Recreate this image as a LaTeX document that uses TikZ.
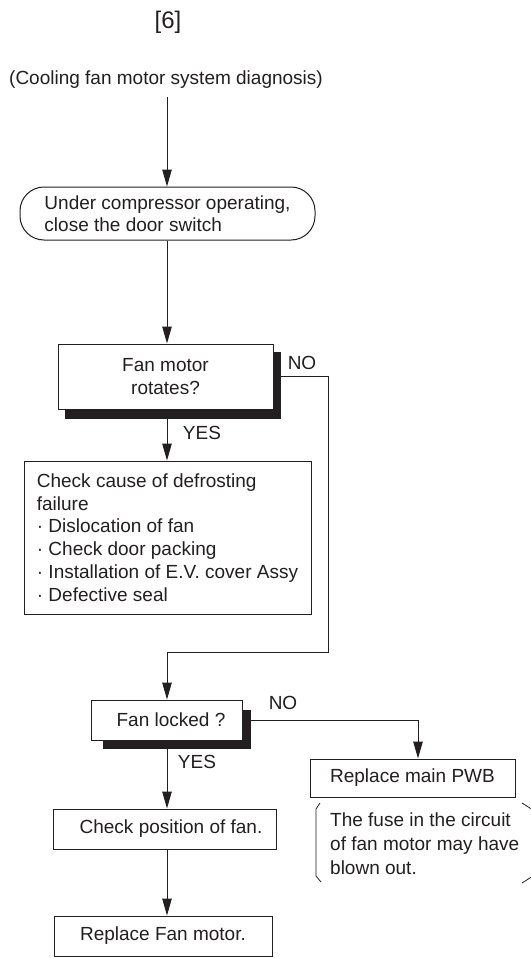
\documentclass[tikz,border=0pt]{standalone}
\usepackage{fontspec}
\setmainfont{Liberation Sans}
\usetikzlibrary{arrows.meta,backgrounds}
\definecolor{ink}{HTML}{231F20}

\begin{document}
\begin{tikzpicture}[x=1pt,y=-1pt,
  every node/.style={text=ink, font=\fontsize{19}{22.7}\selectfont},
  box/.style={draw=ink, line width=1pt, fill=white, inner sep=0pt},
  startbox/.style={box, rounded corners=24pt},
  arr/.style={draw=ink, line width=1pt, -{Triangle[length=17pt,width=9.5pt]}},
  link/.style={draw=ink, line width=1pt},
  brace/.style={draw=ink, line width=0.8pt}
]
\useasboundingbox (0,0) rectangle (530,958);
\coordinate (colx) at (167,0);

% headings
\node (title) at (168,22) {\fontsize{24}{28}\selectfont [6]};
\node[inner sep=0pt] (sub) at (166,80) {(Cooling fan motor system diagnosis)};

% main column
\node[startbox, minimum width=295pt, minimum height=53pt, align=left,
      font=\fontsize{19}{21.5}\selectfont]
  (start) at (167.5,213.5) {Under compressor operating,\\close the door switch};

\node[box, minimum width=215pt, minimum height=65pt, align=center,
      font=\fontsize{19}{23}\selectfont]
  (d1) at (165.5,376.5) {Fan motor\\rotates?};

\node[box, minimum width=287pt, minimum height=153pt, align=left]
  (chk) at (167.5,537.5) {Check cause of defrosting\\failure\\%
  \textperiodcentered\ Dislocation of fan\\%
  \textperiodcentered\ Check door packing\\%
  \textperiodcentered\ Installation of E.V. cover Assy\\%
  \textperiodcentered\ Defective seal};

\node[box, minimum width=151pt, minimum height=40pt]
  (d2) at (166.5,720) {\hspace*{9pt}Fan locked ?};

\node[box, minimum width=205pt, minimum height=38pt]
  (pwb) at (412.5,778) {Replace main PWB};

\node[inner sep=0pt, align=left, anchor=north west,
      font=\fontsize{19}{24}\selectfont]
  (note) at (330,813) {The fuse in the circuit\\of fan motor may have\\blown out.};

\node[box, minimum width=223pt, minimum height=40pt]
  (pos) at (164.5,829) {\hspace*{13pt}Check position of fan.};

\node[box, minimum width=218pt, minimum height=40pt]
  (fanm) at (163,936) {Replace Fan motor.};

% branch labels
\node (no1) at (302,363) {NO};
\node (yes1) at (202,433) {YES};
\node (no2) at (283,703) {NO};
\node (yes2) at (197,762) {YES};

% page background and drop shadows of the decision boxes
\begin{scope}[on background layer]
  \fill[white] (0,0) rectangle (530,958);
  \fill[ink] ([xshift=7pt,yshift=-8pt]d1.north west) rectangle ([xshift=7pt,yshift=-9pt]d1.south east);
  \fill[ink] ([xshift=12pt,yshift=-10pt]d2.north west) rectangle ([xshift=8pt,yshift=-8pt]d2.south east);
\end{scope}

% connectors
\coordinate (c1) at (328,652);
\draw[arr] ([yshift=-8pt]sub.south -| colx) -- (start.north -| colx);
\draw[arr] (start.south -| colx) -- (d1.north -| colx);
\draw[arr] (d1.south -| colx) -- (chk.north -| colx);
\draw[arr] (d1.east) -| (c1) -| (d2.north -| colx);
\draw[arr] (d2.south -| colx) -- (pos.north -| colx);
\draw[arr] (pos.south -| colx) -- (fanm.north -| colx);
\draw[arr] (d2.east) -| ([xshift=5.5pt]pwb.north);

% brackets round the note
\draw[brace] (320,803) -- (316,809) -- (316,876) -- (321,882);
\draw[brace] (522,803) -- (533,810);
\draw[brace] (522,883) -- (533,876);
\end{tikzpicture}
\end{document}
